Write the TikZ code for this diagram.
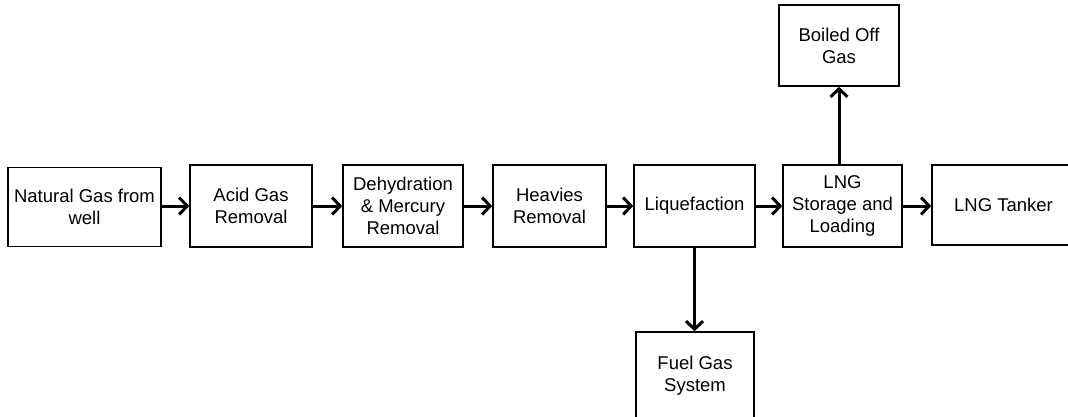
\documentclass[tikz,border=0pt]{standalone}
\usepackage{fontspec}
\setmainfont{Liberation Sans}
\usetikzlibrary{arrows.meta, positioning}

\begin{document}
\begin{tikzpicture}[
  x=1pt, y=-1pt,
  unit/.style={rectangle, draw=black, line width=1.6pt, fill=white, inner sep=0pt, align=center, minimum height=82pt, font=\fontsize{18.5}{22}\selectfont},
  flow/.style={-{Straight Barb[length=8pt, width=17pt]}, line width=3pt, black}
]
\useasboundingbox (0,0) rectangle (1068,416);
\clip (0,0) rectangle (1068,416);

% Hauptstrecke
\node[unit, minimum width=153pt, minimum height=79pt] (well) at (84.5,207) {Natural Gas from\\well};
\node[unit, minimum width=122pt] (acid) at (251,206) {Acid Gas\\Removal};
\node[unit, minimum width=120pt] (dehyd) at (403,206) {Dehydration\\\& Mercury\\Removal};
\node[unit, minimum width=113pt] (heavies) at (549.5,206) {Heavies\\Removal};
\node[unit, minimum width=121pt] (liq) at (694.5,206) {Liquefaction};
\node[unit, minimum width=119pt] (storage) at (842.5,206) {LNG\\Storage and\\Loading};
\node[unit, minimum width=143pt, minimum height=80pt] (tanker) at (1003.5,205) {LNG Tanker};
% Nebenstroeme
\node[unit, minimum width=120pt, minimum height=81pt] (boiled) at (839,45.5) {Boiled Off\\Gas};
\node[unit, minimum width=118pt, minimum height=88pt] (fuel) at (695,376) {Fuel Gas\\System};

% Verbindungen
\draw[flow] (well.east |- acid) -- (acid.west);
\draw[flow] (acid) -- (dehyd);
\draw[flow] (dehyd) -- (heavies);
\draw[flow] (heavies) -- (liq);
\draw[flow] (liq) -- (storage);
\draw[flow] (storage.east) -- (tanker.west |- storage);
\draw[flow] (boiled.south |- storage.north) -- (boiled.south);
\draw[flow] (liq.south) -- (liq.south |- fuel.north);
\end{tikzpicture}
\end{document}
